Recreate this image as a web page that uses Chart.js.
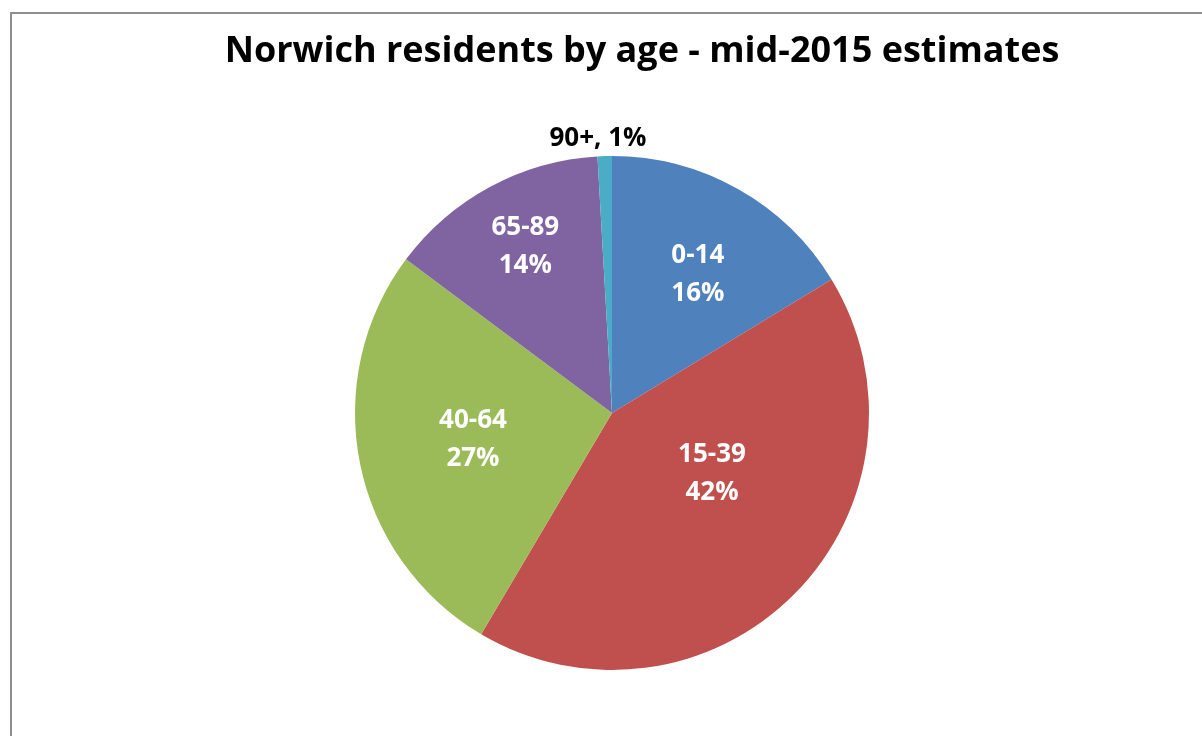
<!DOCTYPE html>
<html>
<head>
<meta charset="utf-8">
<script src="https://cdn.jsdelivr.net/npm/chart.js@4.4.1/dist/chart.umd.min.js"></script>
<style>
    html, body { margin: 0; padding: 0; background: #fff; overflow: hidden; }
    #wrap { position: relative; width: 1202px; height: 736px; }
    #frame {
        position: absolute; left: 10px; top: 12px; width: 1300px; height: 800px;
        border-left: 2px solid #8e8e8e; border-top: 2px solid #8e8e8e;
    }
    canvas { position: absolute; left: 0; top: 0; }
</style>
</head>
<body>
<div id="wrap">
    <div id="frame"></div>
    <canvas id="pie" width="1202" height="736"></canvas>
</div>
<script>
// age bands and share of residents (%)
const ageBands = ['0-14', '15-39', '40-64', '65-89', '90+'];
const shares = [16.3, 42.2, 26.7, 13.9, 0.9];
const sliceColors = ['#4F81BD', '#C0504D', '#9BBB59', '#8064A2', '#4BACC6'];
const chartTitle = 'Norwich residents by age - mid-2015 estimates';

// where each label sits, as a fraction of the radius and a small angle shift (deg)
const labelRadius = [0.635, 0.454, 0.551, 0.729, 1.07];
const labelShift = [2.4, -13.6, 0.4, 0.7, -1.3];
const labelOutside = [false, false, false, false, true];

const FONT = '"Open Sans", "DejaVu Sans", sans-serif';

// title sits a bit right of the pie centre, like the original sheet
const titleDraw = {
    id: 'titleDraw',
    afterDraw(chart) {
        const ctx = chart.ctx;
        ctx.save();
        ctx.font = 'bold 36px ' + FONT;
        ctx.fillStyle = '#000';
        ctx.textAlign = 'center';
        ctx.textBaseline = 'middle';
        ctx.fillText(chartTitle, 642, 52);
        ctx.restore();
    }
};

const sliceLabels = {
    id: 'sliceLabels',
    afterDatasetsDraw(chart) {
        const ctx = chart.ctx;
        const meta = chart.getDatasetMeta(0);
        const total = shares.reduce((a, b) => a + b, 0);
        ctx.save();
        ctx.font = 'bold 26px ' + FONT;
        ctx.textAlign = 'center';
        ctx.textBaseline = 'middle';
        meta.data.forEach((arc, i) => {
            const p = arc.getProps(['x', 'y', 'startAngle', 'endAngle', 'outerRadius'], true);
            const mid = (p.startAngle + p.endAngle) / 2 + labelShift[i] * Math.PI / 180;
            const r = p.outerRadius * labelRadius[i];
            const x = p.x + Math.cos(mid) * r;
            const y = p.y + Math.sin(mid) * r;
            const pct = Math.round(shares[i] / total * 100) + '%';
            if (labelOutside[i]) {
                ctx.fillStyle = '#000';
                ctx.fillText(ageBands[i] + ', ' + pct, x, y);
            } else {
                ctx.fillStyle = '#fff';
                ctx.fillText(ageBands[i], x, y - 19);
                ctx.fillText(pct, x, y + 19);
            }
        });
        ctx.restore();
    }
};

new Chart(document.getElementById('pie'), {
    type: 'pie',
    data: {
        labels: ageBands,
        datasets: [{
            data: shares,
            backgroundColor: sliceColors,
            borderWidth: 0
        }]
    },
    options: {
        responsive: false,
        animation: false,
        layout: { padding: { left: 22, right: 0, top: 156, bottom: 66 } },
        plugins: {
            legend: { display: false },
            tooltip: { enabled: false },
            title: { display: false }
        }
    },
    plugins: [sliceLabels, titleDraw]
});
</script>
</body>
</html>
